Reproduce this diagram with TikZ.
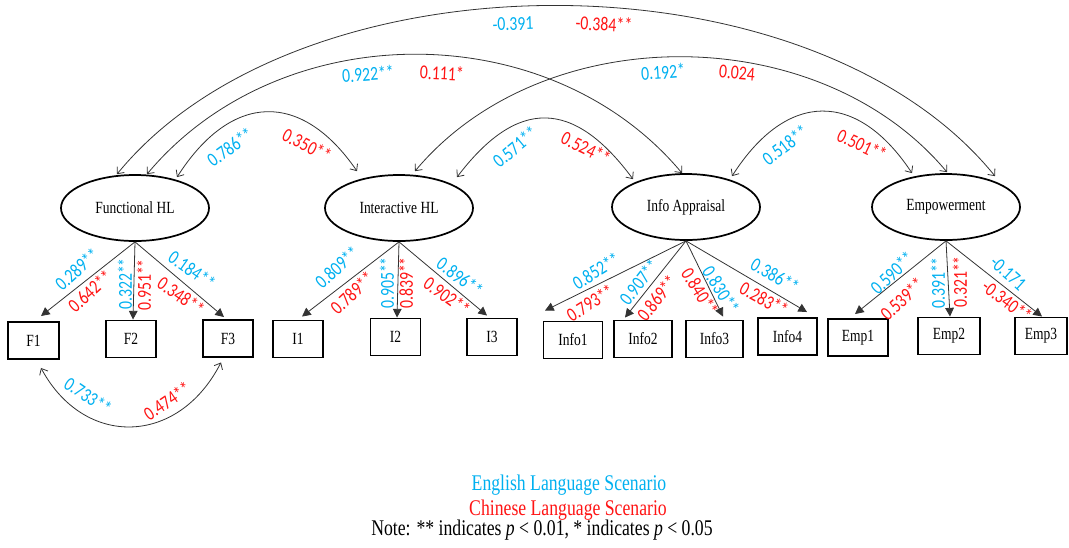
\documentclass[tikz,border=0pt]{standalone}
\usepackage{fontspec}
\setmainfont{Liberation Serif}[FakeStretch=0.79]
\newfontfamily\numfont{Carlito}[FakeStretch=0.8]
\usetikzlibrary{shapes.geometric,arrows.meta,calc}
\definecolor{enblue}{RGB}{0,176,240}
\definecolor{cnred}{RGB}{255,20,20}
\tikzset{lv/.style={ellipse, draw, line width=1.3pt, minimum width=111pt, minimum height=49.5pt, inner sep=0pt, font=\fontsize{12.8}{12.8}\selectfont}}
\tikzset{ob/.style={draw, line width=1.2pt, minimum height=28pt, inner sep=0pt, font=\fontsize{12.8}{12.8}\selectfont}}
\tikzset{eb/.style={text=enblue, inner sep=0pt, font=\numfont\fontsize{14.8}{14.8}\selectfont}}
\tikzset{cr/.style={eb, text=cnred}}
\tikzset{ld/.style={draw=black!80, line width=0.6pt, -{Triangle[length=6.5pt,width=6.5pt]}}}
\tikzset{cv/.style={draw=black!80, line width=0.6pt, {Straight Barb[length=4pt,width=7pt]}-{Straight Barb[length=4pt,width=7pt]}}}

\begin{document}
\begin{tikzpicture}[x=0.75pt, y=0.75pt]
  \useasboundingbox (0,0) rectangle (1069,-547);
  \node[lv] (FHL) at (135,-208) {Functional HL};
  \node[lv] (IHL) at (399,-208) {Interactive HL};
  \node[lv] (IA) at (686,-207) {Info Appraisal};
  \node[lv] (EMP) at (946,-207) {Empowerment};

  \node[ob, minimum width=38pt] (F1) at (33.5,-340.5) {F1};
  \node[ob, minimum width=37.5pt] (F2) at (131,-339) {F2};
  \node[ob, minimum width=37.5pt] (F3) at (228,-338.5) {F3};
  \node[ob, minimum width=37.5pt] (I1) at (298,-339) {I1};
  \node[ob, minimum width=37.5pt] (I2) at (395.5,-337) {I2};
  \node[ob, minimum width=37.5pt] (I3) at (492,-337) {I3};
  \node[ob, minimum width=44.5pt] (Info1) at (573,-340) {Info1};
  \node[ob, minimum width=43.5pt] (Info2) at (643,-339) {Info2};
  \node[ob, minimum width=43pt] (Info3) at (714.5,-339) {Info3};
  \node[ob, minimum width=44pt] (Info4) at (787.5,-336.5) {Info4};
  \node[ob, minimum width=45pt] (Emp1) at (858,-337.5) {Emp1};
  \node[ob, minimum width=46.5pt] (Emp2) at (949,-336) {Emp2};
  \node[ob, minimum width=39pt] (Emp3) at (1041,-336) {Emp3};

  \draw[ld] (FHL.south) -- ($(F1.north)+(7.5,5)$);
  \draw[ld] (FHL.south) -- ($(F2.north)+(2,0)$);
  \draw[ld] (FHL.south) -- ($(F3.north)+(-4,2)$);
  \draw[ld] (IHL.south) -- ($(I1.north)+(4,3)$);
  \draw[ld] (IHL.south) -- ($(I2.north)+(1.5,0)$);
  \draw[ld] (IHL.south) -- ($(I3.north)+(-5,2)$);
  \draw[ld] (IA.south) -- ($(Info1.north)+(-28,10)$);
  \draw[ld] (IA.south) -- ($(Info2.north)+(-18,2)$);
  \draw[ld] (IA.south) -- ($(Info3.north)+(8.5,3)$);
  \draw[ld] (IA.south) -- ($(Info4.north)+(19.5,5)$);
  \draw[ld] (EMP.south) -- ($(Emp1.north)+(-3,4)$);
  \draw[ld] (EMP.south) -- ($(Emp2.north)+(1,0)$);
  \draw[ld] (EMP.south) -- ($(Emp3.north)+(1,0)$);

  \draw[cv] ($(FHL.north)+(42,-3)$) .. controls +(55,86) and +(-55,80) .. ($(IHL.north)+(-42,3)$);
  \draw[cv] ($(IHL.north)+(58,-3)$) .. controls +(60,79) and +(-60,81) .. ($(IA.north)+(-53,-6)$);
  \draw[cv] ($(IA.north)+(46,-3)$) .. controls +(55,86) and +(-55,83) .. ($(EMP.north)+(-34,0)$);
  \draw[cv] ($(FHL.north)+(12,0)$) .. controls +(133,159) and +(-133,159) .. ($(IA.north)+(-4,0)$);
  \draw[cv] ($(IHL.north)+(16,3)$) .. controls +(128,153) and +(-128,153) .. ($(EMP.north)+(1,1)$);
  \draw[cv] ($(FHL.north)+(-18,0)$) .. controls +(184,225) and +(-184,227) .. ($(EMP.north)+(49,-3)$);
  \draw[cv] ($(F1.south)+(7.5,-8)$) .. controls +(43,-80) and +(-43,-84) .. ($(F3.south)+(-7,-4.5)$);

  \node[eb, rotate=42] (lf1e) at (77,-269) {0.289**};
  \node[cr, rotate=42] (lf1c) at (90,-291) {0.642**};
  \node[eb, rotate=90] (lf2e) at (125,-284) {0.322**};
  \node[cr, rotate=90] (lf2c) at (144,-285) {0.951**};
  \node[eb, rotate=-35] (lf3e) at (192,-270) {0.184**};
  \node[cr, rotate=-35] (lf3c) at (181,-296) {0.348**};
  \node[eb, rotate=-34] (lf13e) at (88,-396) {0.733**};
  \node[cr, rotate=34] (lf13c) at (167,-401) {0.474**};

  \node[eb, rotate=42] (li1e) at (337,-267) {0.809**};
  \node[cr, rotate=43] (li1c) at (352,-293) {0.789**};
  \node[eb, rotate=90] (li2e) at (387,-283) {0.905**};
  \node[cr, rotate=90] (li2c) at (406,-283) {0.839**};
  \node[eb, rotate=-37] (li3e) at (460,-277) {0.896**};
  \node[cr, rotate=-36] (li3c) at (447,-296) {0.902**};

  \node[eb, rotate=32] (la1e) at (596,-271) {0.852**};
  \node[cr, rotate=32] (la1c) at (590,-303) {0.793**};
  \node[eb, rotate=52] (la2e) at (639,-282) {0.907**};
  \node[cr, rotate=51] (la2c) at (657,-298) {0.869**};
  \node[cr, rotate=-58] (la3c) at (700,-292) {0.840**};
  \node[eb, rotate=-58] (la3e) at (721,-290) {0.830**};
  \node[eb, rotate=-30] (la4e) at (775,-275) {0.386**};
  \node[cr, rotate=-29] (la4c) at (764,-299) {0.283**};

  \node[eb, rotate=44] (le1e) at (892,-273) {0.590**};
  \node[cr, rotate=43] (le1c) at (902,-299) {0.539**};
  \node[eb, rotate=90] (le2e) at (938,-283) {0.391**};
  \node[cr, rotate=90] (le2c) at (960,-282) {0.321**};
  \node[eb, rotate=-42] (le3e) at (1008,-273) {-0.171};
  \node[cr, rotate=-37] (le3c) at (1007,-301) {-0.340**};

  \node[eb, rotate=36] (lfie) at (230,-147) {0.786**};
  \node[cr, rotate=-27] (lfic) at (307,-145) {0.350**};
  \node[eb, rotate=40] (liae) at (515,-147) {0.571**};
  \node[cr, rotate=-26] (liac) at (586,-148) {0.524**};
  \node[eb, rotate=37] (laee) at (785,-145) {0.518**};
  \node[cr, rotate=-25] (laec) at (862,-145) {0.501**};
  \node[eb, rotate=4] (lfae) at (368,-74) {0.922**};
  \node[cr, rotate=-3] (lfac) at (442,-73) {0.111*};
  \node[eb, rotate=2] (lfee) at (513,-24) {-0.391};
  \node[cr, rotate=-3] (lfec) at (604,-24) {-0.384**};
  \node[eb, rotate=4] (liee) at (663,-72) {0.192*};
  \node[cr, rotate=-5] (liec) at (737,-73) {0.024};

  \node[text=enblue, font=\fontsize{16.8}{16.8}\selectfont] (key1) at (569,-485) {English Language Scenario};
  \node[text=cnred, font=\fontsize{16.8}{16.8}\selectfont] (key2) at (568,-510) {Chinese Language Scenario};
  \node[font=\fontsize{16.8}{16.8}\selectfont] (note) at (542,-530) {Note: ** indicates \textit{p} < 0.01, * indicates \textit{p} < 0.05};
\end{tikzpicture}
\end{document}
